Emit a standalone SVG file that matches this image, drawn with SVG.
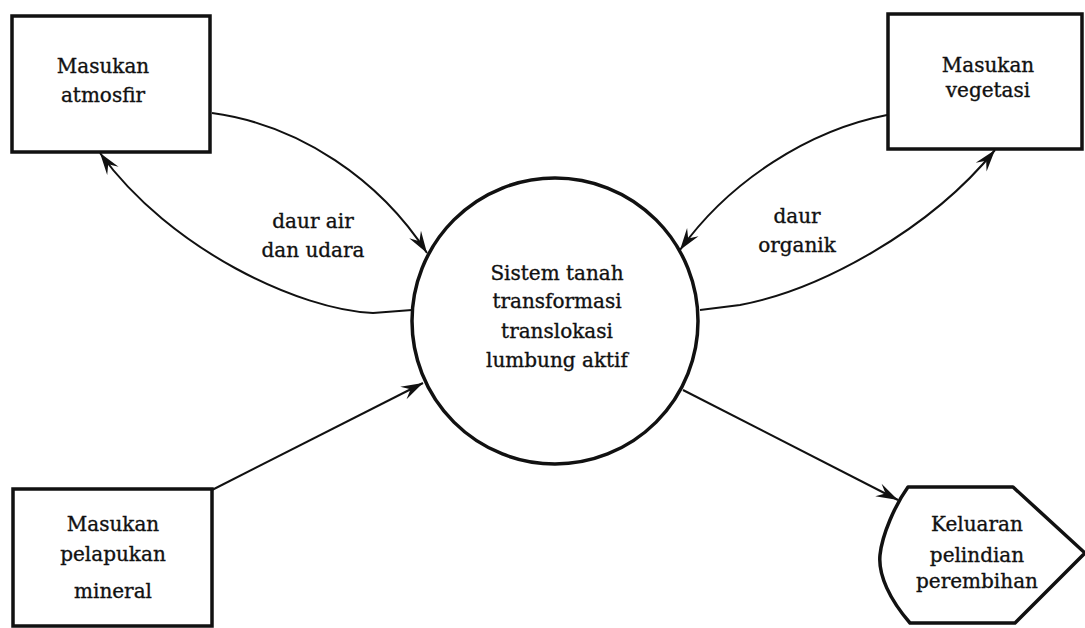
<svg xmlns="http://www.w3.org/2000/svg" width="1085" height="628" viewBox="0 0 1085 628">
<style>
.box{fill:#fff;stroke:#111;stroke-width:3.5}
.con{fill:none;stroke:#111;stroke-width:2}
text{font-family:"DejaVu Serif","Liberation Serif",serif;font-size:20px;fill:#111;stroke:#111;stroke-width:0.35;text-anchor:middle}
</style>
<defs>
<marker id="arr" markerUnits="userSpaceOnUse" markerWidth="26" markerHeight="16" viewBox="-24 -8 26 16" refX="0" refY="0" orient="auto">
<path d="M0,0 L-22,-7 L-14,0 L-22,7 Z" fill="#111"/>
</marker>
</defs>
<rect width="1085" height="628" fill="#fff"/>
<g id="connectors">
<path class="con" d="M212,113 C300,125 380,180 427,253" marker-end="url(#arr)"/>
<path class="con" d="M412,310 L373,313 C300,310 170,250 100,153" marker-end="url(#arr)"/>
<path class="con" d="M887,115 C810,130 730,180 680,250" marker-end="url(#arr)"/>
<path class="con" d="M700,310 L740,305 C820,290 930,230 995,150" marker-end="url(#arr)"/>
<path class="con" d="M212,490 L423,383" marker-end="url(#arr)"/>
<path class="con" d="M683,390 L898,500" marker-end="url(#arr)"/>
</g>
<g id="atmosfir">
<rect class="box" x="12" y="16" width="198" height="136"/>
<text x="103" y="73">Masukan</text>
<text x="103" y="102">atmosfir</text>
</g>
<g id="vegetasi">
<rect class="box" x="888" y="14" width="194" height="135"/>
<text x="988" y="72">Masukan</text>
<text x="988" y="97">vegetasi</text>
</g>
<g id="mineral">
<rect class="box" x="13" y="489" width="199" height="137"/>
<text x="113" y="531">Masukan</text>
<text x="113" y="561">pelapukan</text>
<text x="113" y="598">mineral</text>
</g>
<g id="keluaran">
<path class="box" stroke-linejoin="round" d="M908,487 L1013,487 L1085,553 L1015,623 L910,623 C890,600 878,575 880,555 C882,535 895,505 908,487 Z"/>
<text x="977" y="531">Keluaran</text>
<text x="977" y="562">pelindian</text>
<text x="977" y="588">perembihan</text>
</g>
<g id="sistem">
<circle class="box" cx="555" cy="321" r="143"/>
<text x="557" y="280">Sistem tanah</text>
<text x="557" y="308">transformasi</text>
<text x="557" y="338">translokasi</text>
<text x="557" y="367">lumbung aktif</text>
</g>
<g id="labels">
<text x="313" y="228">daur air</text>
<text x="313" y="257">dan udara</text>
<text x="797" y="223">daur</text>
<text x="797" y="252">organik</text>
</g>
</svg>
